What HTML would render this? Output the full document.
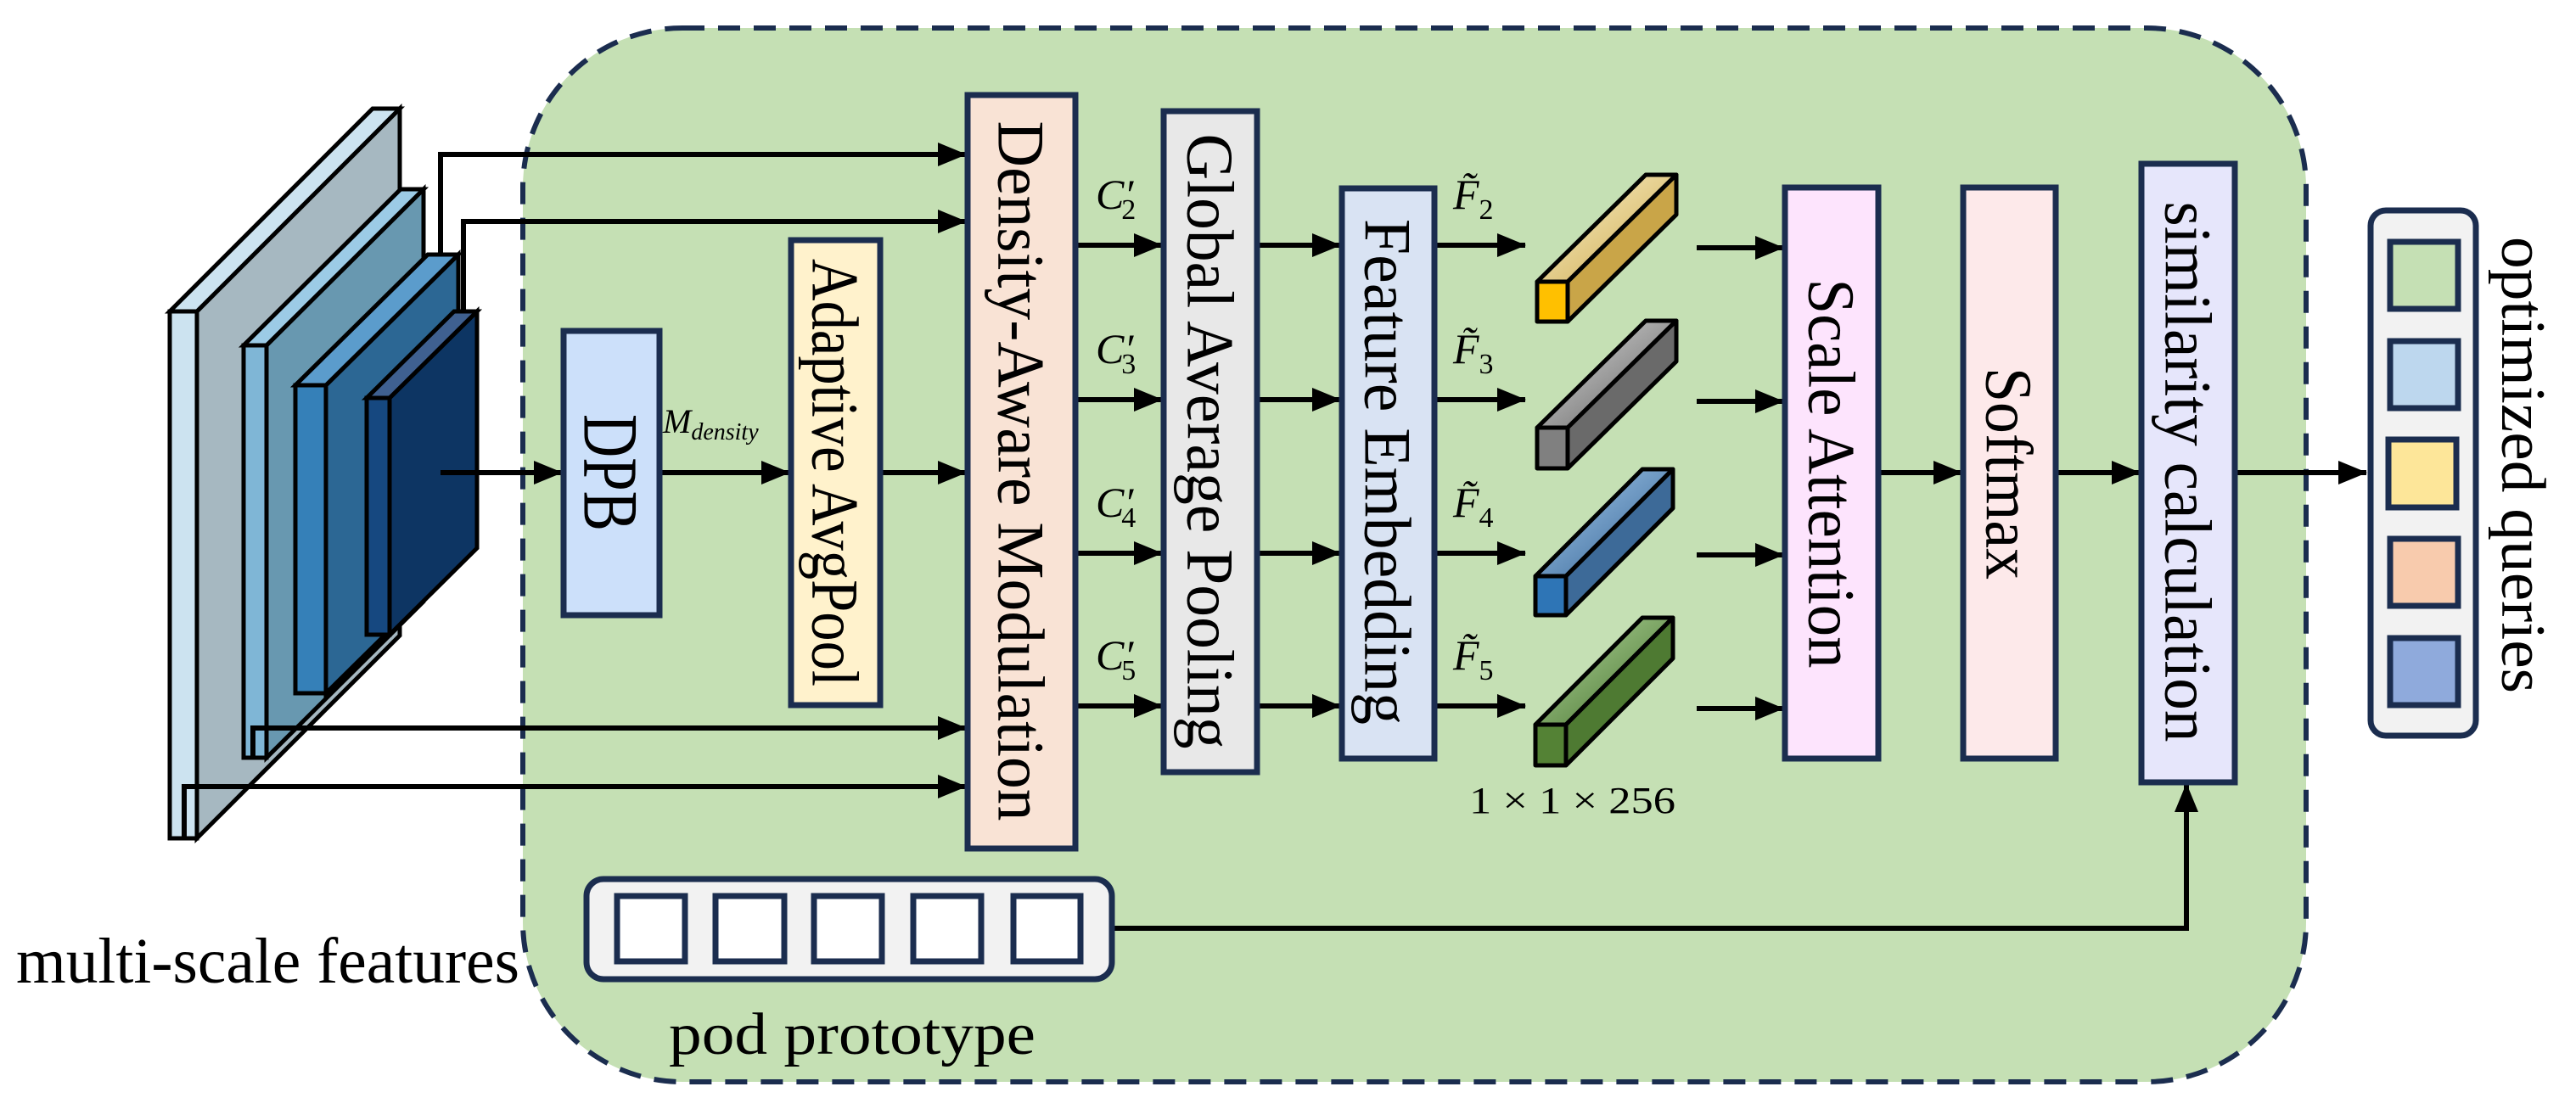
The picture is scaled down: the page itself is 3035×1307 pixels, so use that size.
<!DOCTYPE html>
<html><head><meta charset="utf-8"><style>html,body{margin:0;padding:0;background:#fff}svg{display:block}text{font-family:"Liberation Serif",serif;fill:#000}</style></head><body>
<svg width="3035" height="1307" viewBox="0 0 3035 1307" xmlns="http://www.w3.org/2000/svg">
<defs>
<marker id="ah" markerWidth="34" markerHeight="28" viewBox="0 0 34 28" refX="33" refY="14" orient="auto" markerUnits="userSpaceOnUse">
<path d="M0,0 L34,14 L0,28 z" fill="#000"/>
</marker>
<linearGradient id="gy" x1="0" y1="0" x2="1" y2="1"><stop offset="0" stop-color="#fff6d0"/><stop offset="1" stop-color="#c9a548"/></linearGradient>
<linearGradient id="gg" x1="0" y1="0" x2="1" y2="1"><stop offset="0" stop-color="#e0e0e0"/><stop offset="1" stop-color="#5a5a5a"/></linearGradient>
<linearGradient id="gb" x1="0" y1="0" x2="1" y2="1"><stop offset="0" stop-color="#a8cdf0"/><stop offset="1" stop-color="#2f5f90"/></linearGradient>
<linearGradient id="gn" x1="0" y1="0" x2="1" y2="1"><stop offset="0" stop-color="#b8dca0"/><stop offset="1" stop-color="#3f6c28"/></linearGradient>
</defs>

<rect x="616" y="33" width="2101" height="1242" rx="188" ry="188" fill="#c5e0b4" stroke="#1b2d4f" stroke-width="6" stroke-dasharray="26 16"/>

<g stroke="#000" stroke-width="5" stroke-linejoin="miter">
<polygon points="232,367 471,128 471,749 232,988" fill="#a6b8c1"/>
<polygon points="200,367 232,367 471,128 439,128" fill="#cce3f0"/>
<rect x="200" y="367" width="32" height="621" fill="#cce3f0"/>
<polygon points="314,407 499,223 499,709 314,893" fill="#6898b0"/>
<polygon points="287,407 314,407 499,223 472,223" fill="#9ccbe6"/>
<rect x="287" y="407" width="27" height="486" fill="#7fb6d6"/>
<polygon points="384,454 540,300 540,663 384,817" fill="#2c6794"/>
<polygon points="348,454 384,454 540,300 504,300" fill="#5b9ccc"/>
<rect x="348" y="454" width="36" height="363" fill="#3580b8"/>
<polygon points="459,469 562,367 562,646 459,748" fill="#0d3563"/>
<polygon points="432,469 459,469 562,367 535,367" fill="#3f6090"/>
<rect x="432" y="469" width="27" height="279" fill="#164880"/>
</g>

<g stroke="#000" stroke-width="6" fill="none">
<polyline points="519,300 519,182 1138,182" marker-end="url(#ah)"/>
<polyline points="546,367 546,261 1138,261" marker-end="url(#ah)"/>
<polyline points="298,893 298,858 1138,858" marker-end="url(#ah)"/>
<polyline points="217,988 217,927 1138,927" marker-end="url(#ah)"/>
<line x1="519" y1="557" x2="662" y2="557" marker-end="url(#ah)"/>
<line x1="777" y1="557" x2="930" y2="557" marker-end="url(#ah)"/>
<line x1="1037" y1="557" x2="1138" y2="557" marker-end="url(#ah)"/>
<line x1="1267" y1="289" x2="1369" y2="289" marker-end="url(#ah)"/>
<line x1="1267" y1="471" x2="1369" y2="471" marker-end="url(#ah)"/>
<line x1="1267" y1="652" x2="1369" y2="652" marker-end="url(#ah)"/>
<line x1="1267" y1="832" x2="1369" y2="832" marker-end="url(#ah)"/>
<line x1="1481" y1="289" x2="1579" y2="289" marker-end="url(#ah)"/>
<line x1="1481" y1="471" x2="1579" y2="471" marker-end="url(#ah)"/>
<line x1="1481" y1="652" x2="1579" y2="652" marker-end="url(#ah)"/>
<line x1="1481" y1="832" x2="1579" y2="832" marker-end="url(#ah)"/>
<line x1="1690" y1="289" x2="1797" y2="289" marker-end="url(#ah)"/>
<line x1="1690" y1="471" x2="1797" y2="471" marker-end="url(#ah)"/>
<line x1="1690" y1="652" x2="1797" y2="652" marker-end="url(#ah)"/>
<line x1="1690" y1="832" x2="1797" y2="832" marker-end="url(#ah)"/>
<line x1="1999" y1="292" x2="2101" y2="292" marker-end="url(#ah)"/>
<line x1="1999" y1="473" x2="2101" y2="473" marker-end="url(#ah)"/>
<line x1="1999" y1="654" x2="2101" y2="654" marker-end="url(#ah)"/>
<line x1="1999" y1="835" x2="2101" y2="835" marker-end="url(#ah)"/>
<line x1="2213" y1="557" x2="2311" y2="557" marker-end="url(#ah)"/>
<line x1="2422" y1="557" x2="2521" y2="557" marker-end="url(#ah)"/>
<line x1="2633" y1="557" x2="2788" y2="557" marker-end="url(#ah)"/>
<polyline points="1310,1094 2576,1094 2576,924" marker-end="url(#ah)"/>
</g>

<g stroke="#1b2d4f" stroke-width="7">
<rect x="664" y="390" width="113" height="335" fill="#cce0fa"/>
<rect x="932" y="283" width="105" height="548" fill="#fff2cc"/>
<rect x="1140" y="112" width="127" height="888" fill="#f9e3d5"/>
<rect x="1371" y="131" width="110" height="779" fill="#e8e8e8"/>
<rect x="1581" y="222" width="109" height="672" fill="#d9e3f3"/>
<rect x="2103" y="221" width="110" height="673" fill="#fde4fd"/>
<rect x="2313" y="221" width="109" height="673" fill="#fde9ea"/>
<rect x="2523" y="193" width="110" height="729" fill="#e6e6fb"/>
<rect x="691" y="1036" width="619" height="118" rx="20" fill="#f2f2f2"/>
<rect x="727" y="1056" width="80" height="77" fill="#fff"/>
<rect x="843" y="1056" width="81" height="77" fill="#fff"/>
<rect x="959" y="1056" width="80" height="77" fill="#fff"/>
<rect x="1076" y="1056" width="80" height="77" fill="#fff"/>
<rect x="1194" y="1056" width="79" height="77" fill="#fff"/>
<rect x="2793" y="248" width="124" height="619" rx="18" fill="#f2f2f2"/>
<rect x="2816" y="285" width="80" height="79" fill="#c5e0b4"/>
<rect x="2816" y="402" width="80" height="79" fill="#bdd7ee"/>
<rect x="2814" y="518" width="80" height="80" fill="#fde699"/>
<rect x="2816" y="635" width="80" height="79" fill="#f8cbad"/>
<rect x="2816" y="752" width="80" height="79" fill="#8faadc"/>
</g>

<g stroke="#000" stroke-width="5" stroke-linejoin="round">
<polygon points="1811,332 1847,332 1975,206 1939,206" fill="url(#gy)"/>
<polygon points="1847,332 1975,206 1975,253 1847,379" fill="#c9a548"/>
<rect x="1811" y="332" width="36" height="47" fill="#ffc000"/>
<polygon points="1811,504 1847,504 1975,378 1939,378" fill="url(#gg)"/>
<polygon points="1847,504 1975,378 1975,426 1847,552" fill="#6a6a6a"/>
<rect x="1811" y="504" width="36" height="48" fill="#808080"/>
<polygon points="1809,679 1845,679 1971,553 1935,553" fill="url(#gb)"/>
<polygon points="1845,679 1971,553 1971,599 1845,725" fill="#3d6a98"/>
<rect x="1809" y="679" width="36" height="46" fill="#2e75b6"/>
<polygon points="1809,854 1845,854 1971,728 1935,728" fill="url(#gn)"/>
<polygon points="1845,854 1971,728 1971,776 1845,902" fill="#4e7a32"/>
<rect x="1809" y="854" width="36" height="48" fill="#548235"/>
</g>

<g font-size="78" text-anchor="middle">
<text transform="translate(720,557) rotate(90)" dy="0.34em" textLength="138" lengthAdjust="spacingAndGlyphs" font-size="92">DPB</text>
<text transform="translate(984,557) rotate(90)" dy="0.34em" textLength="504" lengthAdjust="spacingAndGlyphs">Adaptive AvgPool</text>
<text transform="translate(1203,555) rotate(90)" dy="0.34em" textLength="825" lengthAdjust="spacingAndGlyphs">Density-Aware Modulation</text>
<text transform="translate(1426,520) rotate(90)" dy="0.34em" textLength="725" lengthAdjust="spacingAndGlyphs">Global Average Pooling</text>
<text transform="translate(1635,556) rotate(90)" dy="0.34em" textLength="596" lengthAdjust="spacingAndGlyphs">Feature Embedding</text>
<text transform="translate(2158,558) rotate(90)" dy="0.34em" textLength="459" lengthAdjust="spacingAndGlyphs">Scale Attention</text>
<text transform="translate(2367,558) rotate(90)" dy="0.34em" textLength="250" lengthAdjust="spacingAndGlyphs">Softmax</text>
<text transform="translate(2578,556) rotate(90)" dy="0.34em" textLength="637" lengthAdjust="spacingAndGlyphs">similarity calculation</text>
<text transform="translate(2973,548) rotate(90)" dy="0.34em" textLength="538" lengthAdjust="spacingAndGlyphs" font-size="74">optimized queries</text>
</g>

<text x="19" y="1158" font-size="76" textLength="593" lengthAdjust="spacingAndGlyphs">multi-scale features</text>
<text x="788" y="1242" font-size="70" textLength="432" lengthAdjust="spacingAndGlyphs">pod prototype</text>
<text x="781" y="510" font-size="40" font-style="italic">M<tspan font-size="28" dy="8">density</tspan></text>
<g font-size="50" font-style="italic">
<text x="1291" y="246">C′<tspan font-style="normal" font-size="34" dx="-14" dy="12">2</tspan></text>
<text x="1291" y="428">C′<tspan font-style="normal" font-size="34" dx="-14" dy="12">3</tspan></text>
<text x="1291" y="609">C′<tspan font-style="normal" font-size="34" dx="-14" dy="12">4</tspan></text>
<text x="1291" y="789">C′<tspan font-style="normal" font-size="34" dx="-14" dy="12">5</tspan></text>
<text x="1712" y="246">F̃<tspan font-style="normal" font-size="34" dy="12">2</tspan></text>
<text x="1712" y="428">F̃<tspan font-style="normal" font-size="34" dy="12">3</tspan></text>
<text x="1712" y="609">F̃<tspan font-style="normal" font-size="34" dy="12">4</tspan></text>
<text x="1712" y="789">F̃<tspan font-style="normal" font-size="34" dy="12">5</tspan></text>
</g>
<text x="1731" y="958" font-size="44" textLength="243" lengthAdjust="spacingAndGlyphs">1 × 1 × 256</text>
</svg>
</body></html>
